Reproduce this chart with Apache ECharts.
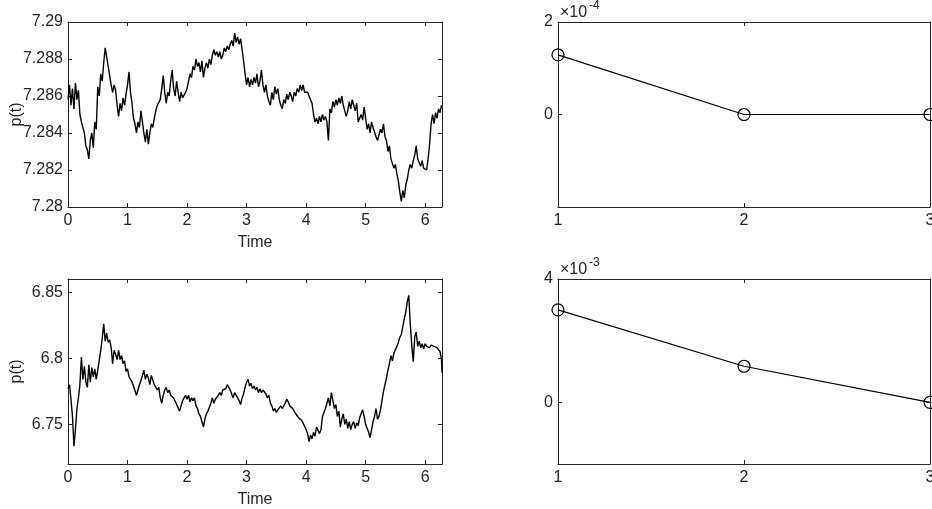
<!DOCTYPE html>
<html>
<head>
<meta charset="utf-8">
<script src="https://cdn.jsdelivr.net/npm/echarts@6/dist/echarts.min.js"></script>
<style>
  html, body { margin: 0; padding: 0; background: #fff; }
  #chart { width: 932px; height: 509px; }
</style>
</head>
<body>
<div id="chart"></div>
<script>
// Sampled price paths p(t): one value every timeStep, last sample at t = 2*pi
const timeStep = 0.025;
const timeEnd = 2 * Math.PI;

const priceUpper = [
  7.2858, 7.2866, 7.2855, 7.2864, 7.2853, 7.2867, 7.2858, 7.2863, 7.2850, 7.2846,
  7.2843, 7.2840, 7.2833, 7.2831, 7.2826, 7.2836, 7.2840, 7.2832, 7.2846, 7.2842,
  7.2865, 7.2860, 7.2872, 7.2868, 7.2878, 7.2886, 7.2881, 7.2876, 7.2871, 7.2866,
  7.2862, 7.2866, 7.2863, 7.2855, 7.2849, 7.2856, 7.2852, 7.2859, 7.2855, 7.2861,
  7.2866, 7.2873, 7.2862, 7.2856, 7.2848, 7.2845, 7.2840, 7.2846, 7.2843, 7.2852,
  7.2846, 7.2840, 7.2835, 7.2842, 7.2834, 7.2840, 7.2845, 7.2843, 7.2848, 7.2852,
  7.2855, 7.2854, 7.2858, 7.2864, 7.2871, 7.2862, 7.2856, 7.2862, 7.2860, 7.2868,
  7.2874, 7.2864, 7.2860, 7.2868, 7.2862, 7.2857, 7.2862, 7.2859, 7.2858, 7.2862,
  7.2864, 7.2868, 7.2872, 7.2870, 7.2876, 7.2874, 7.2880, 7.2876, 7.2878, 7.2873,
  7.2879, 7.2870, 7.2875, 7.2878, 7.2875, 7.2880, 7.2877, 7.2882, 7.2885, 7.2882,
  7.2884, 7.2881, 7.2884, 7.2880, 7.2882, 7.2886, 7.2884, 7.2887, 7.2885, 7.2888,
  7.2890, 7.2887, 7.2894, 7.2889, 7.2892, 7.2888, 7.2891, 7.2885, 7.2879, 7.2872,
  7.2866, 7.2870, 7.2865, 7.2869, 7.2866, 7.2870, 7.2867, 7.2872, 7.2865, 7.2868,
  7.2874, 7.2866, 7.2862, 7.2866, 7.2860, 7.2857, 7.2855, 7.2862, 7.2858, 7.2865,
  7.2861, 7.2864, 7.2858, 7.2855, 7.2853, 7.2858, 7.2856, 7.2861, 7.2858, 7.2862,
  7.2860, 7.2857, 7.2862, 7.2860, 7.2864, 7.2862, 7.2866, 7.2863, 7.2866, 7.2862,
  7.2861, 7.2862, 7.2860, 7.2858, 7.2856, 7.2850, 7.2846, 7.2848, 7.2845, 7.2849,
  7.2846, 7.2850, 7.2847, 7.2849, 7.2846, 7.2836, 7.2853, 7.2851, 7.2857, 7.2854,
  7.2858, 7.2855, 7.2859, 7.2856, 7.2860, 7.2855, 7.2856, 7.2849, 7.2852, 7.2857,
  7.2853, 7.2858, 7.2855, 7.2852, 7.2856, 7.2846, 7.2848, 7.2850, 7.2847, 7.2854,
  7.2848, 7.2842, 7.2845, 7.2840, 7.2846, 7.2843, 7.2844, 7.2838, 7.2836, 7.2839,
  7.2842, 7.2840, 7.2845, 7.2838, 7.2836, 7.2830, 7.2833, 7.2826, 7.2825, 7.2821,
  7.2823, 7.2818, 7.2814, 7.2808, 7.2803, 7.2809, 7.2805, 7.2812, 7.2815, 7.2820,
  7.2823, 7.2821, 7.2825, 7.2828, 7.2833, 7.2826, 7.2824, 7.2822, 7.2825, 7.2821,
  7.2822, 7.2820, 7.2826, 7.2834, 7.2845, 7.2850, 7.2845, 7.2851, 7.2848, 7.2853,
  7.2851, 7.2855, 7.2855
];

const priceLower = [
  6.7770, 6.7800, 6.7690, 6.7560, 6.7335, 6.7460, 6.7620, 6.7700, 6.7800, 6.8010,
  6.7840, 6.7940, 6.7820, 6.7780, 6.7950, 6.7820, 6.7930, 6.7860, 6.7920, 6.7840,
  6.7910, 6.7920, 6.8060, 6.8150, 6.8260, 6.8130, 6.8190, 6.8120, 6.8140, 6.8080,
  6.7960, 6.8060, 6.8030, 6.7990, 6.8060, 6.7990, 6.8020, 6.7960, 6.7980, 6.7900,
  6.7920, 6.7860, 6.7840, 6.7820, 6.7790, 6.7780, 6.7720, 6.7760, 6.7800, 6.7830,
  6.7870, 6.7910, 6.7840, 6.7880, 6.7850, 6.7800, 6.7870, 6.7860, 6.7800, 6.7780,
  6.7760, 6.7780, 6.7700, 6.7660, 6.7720, 6.7760, 6.7780, 6.7740, 6.7760, 6.7720,
  6.7730, 6.7700, 6.7710, 6.7650, 6.7640, 6.7600, 6.7640, 6.7680, 6.7700, 6.7720,
  6.7690, 6.7720, 6.7670, 6.7700, 6.7680, 6.7700, 6.7640, 6.7620, 6.7580, 6.7560,
  6.7520, 6.7480, 6.7540, 6.7580, 6.7600, 6.7630, 6.7660, 6.7700, 6.7660, 6.7690,
  6.7700, 6.7720, 6.7740, 6.7720, 6.7760, 6.7750, 6.7770, 6.7800, 6.7780, 6.7760,
  6.7730, 6.7700, 6.7740, 6.7720, 6.7700, 6.7680, 6.7650, 6.7700, 6.7730, 6.7780,
  6.7820, 6.7840, 6.7790, 6.7810, 6.7770, 6.7790, 6.7760, 6.7780, 6.7740, 6.7770,
  6.7740, 6.7760, 6.7750, 6.7730, 6.7700, 6.7720, 6.7660, 6.7640, 6.7600, 6.7620,
  6.7590, 6.7610, 6.7600, 6.7640, 6.7620, 6.7630, 6.7660, 6.7690, 6.7670, 6.7640,
  6.7650, 6.7620, 6.7600, 6.7580, 6.7590, 6.7550, 6.7560, 6.7530, 6.7510, 6.7500,
  6.7460, 6.7430, 6.7370, 6.7420, 6.7390, 6.7440, 6.7410, 6.7480, 6.7470, 6.7430,
  6.7460, 6.7560, 6.7590, 6.7620, 6.7660, 6.7700, 6.7640, 6.7740, 6.7680, 6.7620,
  6.7650, 6.7560, 6.7600, 6.7480, 6.7540, 6.7580, 6.7500, 6.7540, 6.7470, 6.7520,
  6.7460, 6.7500, 6.7520, 6.7470, 6.7510, 6.7490, 6.7550, 6.7580, 6.7610, 6.7560,
  6.7500, 6.7470, 6.7440, 6.7400, 6.7460, 6.7520, 6.7560, 6.7620, 6.7540, 6.7560,
  6.7610, 6.7680, 6.7750, 6.7800, 6.7850, 6.7910, 6.7960, 6.8020, 6.7980, 6.8040,
  6.8050, 6.8090, 6.8120, 6.8160, 6.8180, 6.8240, 6.8300, 6.8350, 6.8430, 6.8475,
  6.8260, 6.8100, 6.7975, 6.8160, 6.8200, 6.8090, 6.8130, 6.8080, 6.8110, 6.8070,
  6.8110, 6.8090, 6.8100, 6.8080, 6.8100, 6.8095, 6.8090, 6.8085, 6.8080, 6.8070,
  6.8050, 6.7990, 6.7890
];

// Small three-point curves on the right
const lagIndex = [1, 2, 3];
const curveUpper = [1.29e-4, 0, 0];
const curveLower = [3.0e-3, 1.17e-3, 0];

// Tick positions
const timeTicks = [0, 1, 2, 3, 4, 5, 6];
const upperPriceTicks = [7.28, 7.282, 7.284, 7.286, 7.288, 7.29];
const lowerPriceTicks = [6.75, 6.8, 6.85];
const lagTicks = [1, 2, 3];
const upperCurveTicks = [0, 2e-4];
const lowerCurveTicks = [0, 4e-3];

const AX = '#262626';
const FONT = 'Liberation Sans, Arial, Helvetica, sans-serif';
const FS = 16;

function toPairs(values) {
  return values.map((v, i) => [i === values.length - 1 ? timeEnd : i * timeStep, v]);
}

function xAxisOf(grid, min, max, ticks, pos, withLabels, name) {
  return {
    type: 'value', gridIndex: grid, position: pos, min: min, max: max,
    name: name || '', nameLocation: 'middle', nameGap: 28, nameMoveOverlap: false,
    nameTextStyle: { color: AX, fontSize: FS, fontFamily: FONT },
    axisLine: { show: true, onZero: false, lineStyle: { color: AX, width: 1 } },
    axisTick: { show: true, inside: true, length: 4, customValues: ticks, lineStyle: { color: AX } },
    axisLabel: { show: withLabels, customValues: ticks, margin: 6, color: AX, fontSize: FS, fontFamily: FONT,
                 formatter: v => String(+v.toFixed(3)) },
    splitLine: { show: false }
  };
}

function yAxisOf(grid, min, max, ticks, pos, withLabels, name, fmt) {
  return {
    type: 'value', gridIndex: grid, position: pos, min: min, max: max,
    name: name || '', nameLocation: 'middle', nameGap: 43, nameRotate: 90, nameMoveOverlap: false,
    nameTextStyle: { color: AX, fontSize: FS, fontFamily: FONT },
    axisLine: { show: true, onZero: false, lineStyle: { color: AX, width: 1 } },
    axisTick: { show: true, inside: true, length: 4, customValues: ticks, lineStyle: { color: AX } },
    axisLabel: { show: withLabels, customValues: ticks, margin: 5, color: AX, fontSize: FS, fontFamily: FONT,
                 formatter: fmt },
    splitLine: { show: false }
  };
}

const priceFmt = v => String(+v.toFixed(3));
const upperCurveFmt = v => String(Math.round(v / 1e-4));
const lowerCurveFmt = v => String(Math.round(v / 1e-3));

const grids = [
  { left: 68, top: 22, width: 374, height: 185 },
  { left: 558, top: 22, width: 372, height: 185 },
  { left: 68, top: 279, width: 374, height: 185 },
  { left: 558, top: 279, width: 372, height: 185 }
].map(g => Object.assign({ containLabel: false, outerBoundsMode: 'none' }, g));

const xAxes = [
  xAxisOf(0, 0, timeEnd, timeTicks, 'bottom', true, 'Time'),
  xAxisOf(0, 0, timeEnd, timeTicks, 'top', false),
  xAxisOf(1, 1, 3, lagTicks, 'bottom', true),
  xAxisOf(1, 1, 3, lagTicks, 'top', false),
  xAxisOf(2, 0, timeEnd, timeTicks, 'bottom', true, 'Time'),
  xAxisOf(2, 0, timeEnd, timeTicks, 'top', false),
  xAxisOf(3, 1, 3, lagTicks, 'bottom', true),
  xAxisOf(3, 1, 3, lagTicks, 'top', false)
];

const yAxes = [
  yAxisOf(0, 7.28, 7.29, upperPriceTicks, 'left', true, 'p(t)', priceFmt),
  yAxisOf(0, 7.28, 7.29, upperPriceTicks, 'right', false),
  yAxisOf(1, -2e-4, 2e-4, upperCurveTicks, 'left', true, '', upperCurveFmt),
  yAxisOf(1, -2e-4, 2e-4, upperCurveTicks, 'right', false),
  yAxisOf(2, 6.72, 6.86, lowerPriceTicks, 'left', true, 'p(t)', priceFmt),
  yAxisOf(2, 6.72, 6.86, lowerPriceTicks, 'right', false),
  yAxisOf(3, -2e-3, 4e-3, lowerCurveTicks, 'left', true, '', lowerCurveFmt),
  yAxisOf(3, -2e-3, 4e-3, lowerCurveTicks, 'right', false)
];

function pathSeries(axisIdx, values) {
  return {
    type: 'line', xAxisIndex: axisIdx, yAxisIndex: axisIdx,
    data: toPairs(values), showSymbol: false, symbol: 'none',
    lineStyle: { color: '#000', width: 1.4 }, clip: true
  };
}

function curveSeries(axisIdx, values) {
  return {
    type: 'line', xAxisIndex: axisIdx, yAxisIndex: axisIdx,
    data: lagIndex.map((k, i) => [k, values[i]]),
    symbol: 'circle', symbolSize: 12, showSymbol: true, clip: false,
    lineStyle: { color: '#000', width: 1.2 },
    itemStyle: { color: 'rgba(0,0,0,0)', borderColor: '#000', borderWidth: 1.2 }
  };
}

const chart = echarts.init(document.getElementById('chart'), null, { renderer: 'canvas' });
chart.setOption({
  animation: false,
  backgroundColor: '#fff',
  textStyle: { fontFamily: FONT },
  grid: grids,
  xAxis: xAxes,
  yAxis: yAxes,
  series: [
    pathSeries(0, priceUpper),
    curveSeries(2, curveUpper),
    pathSeries(4, priceLower),
    curveSeries(6, curveLower)
  ],
  graphic: [
    { type: 'text', left: 560, top: 5, style: { text: '×10', fill: AX, font: '16px ' + FONT } },
    { type: 'text', left: 589, top: 0, style: { text: '-4', fill: AX, font: '12px ' + FONT } },
    { type: 'text', left: 560, top: 262, style: { text: '×10', fill: AX, font: '16px ' + FONT } },
    { type: 'text', left: 589, top: 257, style: { text: '-3', fill: AX, font: '12px ' + FONT } }
  ]
});
</script>
</body>
</html>
